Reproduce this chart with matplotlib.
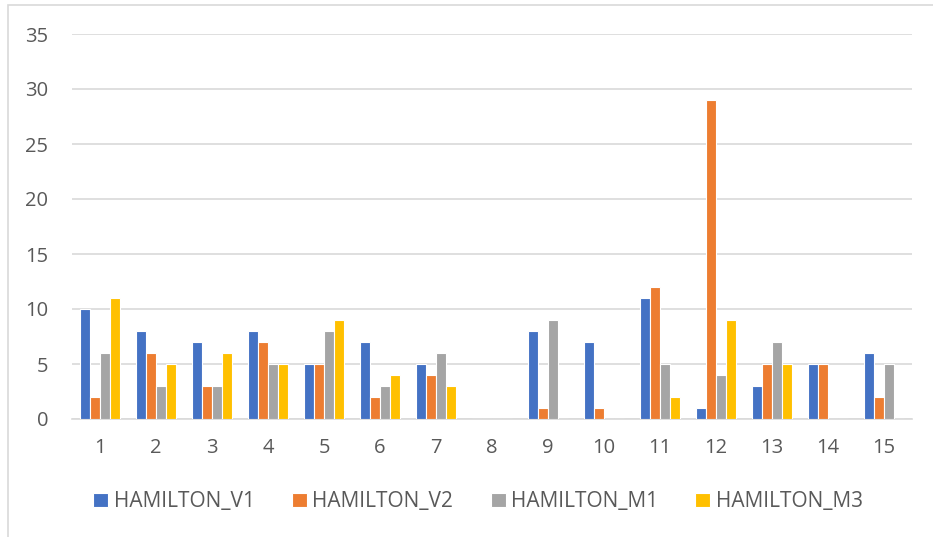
import numpy as np
from matplotlib import pyplot as plt
from matplotlib.patches import Rectangle

categories = [str(i) for i in range(1, 16)]
hamilton_v1 = [10, 8, 7, 8, 5, 7, 5, 0, 8, 7, 11, 1, 3, 5, 6]
hamilton_v2 = [2, 6, 3, 7, 5, 2, 4, 0, 1, 1, 12, 29, 5, 5, 2]
hamilton_m1 = [6, 3, 3, 5, 8, 3, 6, 0, 9, 0, 5, 4, 7, 0, 5]
hamilton_m3 = [11, 5, 6, 5, 9, 4, 3, 0, 0, 0, 2, 9, 5, 0, 0]

series = [("HAMILTON_V1", hamilton_v1, "#4472C4"),
          ("HAMILTON_V2", hamilton_v2, "#ED7D31"),
          ("HAMILTON_M1", hamilton_m1, "#A5A5A5"),
          ("HAMILTON_M3", hamilton_m3, "#FFC000")]

plt.rcParams['font.family'] = ['Open Sans', 'DejaVu Sans']

W, H = 933, 537
fig = plt.figure(figsize=(W / 100, H / 100), dpi=100)
ax = fig.add_axes([72 / W, 1 - 419 / H, (912 - 72) / W, (419 - 34) / H])

x = np.arange(len(categories))
w = 0.175
for i, (name, vals, col) in enumerate(series):
    ax.bar(x + (i - 1.5) * w, vals, w, color=col, edgecolor="white", linewidth=0.8, label=name, zorder=3)

ax.set_xlim(-0.5, len(categories) - 0.5)
ax.set_ylim(0, 35)
ax.set_yticks(range(0, 36, 5))
ax.set_xticks(x)
ax.set_xticklabels(categories)
ax.grid(axis="y", color="#D9D9D9", linewidth=1.2, zorder=0)
for s in ["top", "right", "left"]:
    ax.spines[s].set_visible(False)
ax.spines["bottom"].set_color("#D9D9D9")
ax.spines["bottom"].set_linewidth(1.2)
ax.tick_params(axis="both", length=0, labelsize=14.5, labelcolor="#595959")
ax.tick_params(axis="y", pad=17)
ax.tick_params(axis="x", pad=14)

fig.legend(loc="center", bbox_to_anchor=(478 / W, 1 - 502 / H), ncol=4, frameon=False,
           fontsize=15, handlelength=0.72, handleheight=0.65, handletextpad=0.25,
           columnspacing=1.8, labelcolor="#595959")

fig.patches.append(Rectangle((8 / W, -0.01), 1.0, 1 - 5 / H + 0.01, transform=fig.transFigure,
                             fill=False, edgecolor="#D9D9D9", linewidth=1.2))

fig.savefig("out.png", dpi=100)
